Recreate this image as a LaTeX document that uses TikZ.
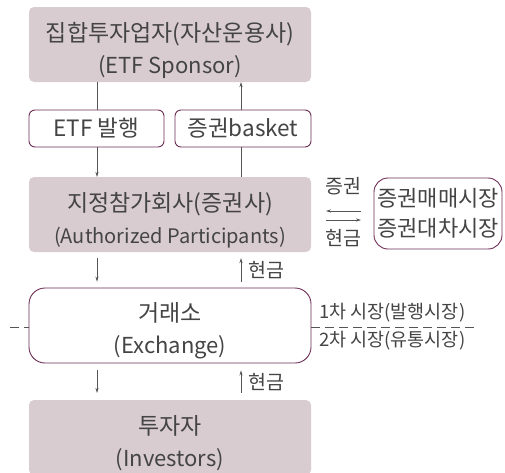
\documentclass[tikz,border=0pt]{standalone}
\usepackage{fontspec}
\setmainfont{Noto Sans CJK KR}
\usetikzlibrary{arrows.meta}
\definecolor{boxfill}{HTML}{D9CCD0}
\definecolor{frame}{HTML}{6E2D55}
\definecolor{ink}{HTML}{444444}
\definecolor{wire}{HTML}{555555}
\newcommand{\krline}[1]{{\fontsize{23}{32}\selectfont #1}}
\tikzset{
  grey/.style={rectangle, rounded corners=5pt, fill=boxfill, draw=none,
    minimum width=282pt, minimum height=75pt, inner sep=0pt},
  boxtext/.style={text=ink, align=center, inner sep=0pt, yshift=-5.5pt, font=\fontsize{22}{32}\selectfont},
  framed/.style={rectangle, rounded corners=6pt, draw=frame, line width=0.9pt, fill=white, text=ink,
    align=center, inner sep=0pt, font=\fontsize{22.5}{32}\selectfont},
  conn/.style={draw=wire, line width=0.6pt},
  arr/.style={conn, -{Stealth[length=5pt,width=3.2pt]}},
  lbl/.style={text=ink, inner sep=0pt, font=\fontsize{19.5}{22}\selectfont},
}
\begin{document}
\begin{tikzpicture}[x=1pt,y=-1pt]
\useasboundingbox (0,0) rectangle (505,472);
% boxes
\node[grey] (sponsor) at (170,44.5) {};
\node[boxtext] (sponsorT) at (sponsor.center) {\krline{집합투자업자(자산운용사)}\\(ETF Sponsor)};
\node[framed, minimum width=135pt, minimum height=37pt] (etf) at (96.5,128.5) {ETF 발행};
\node[framed, minimum width=136pt, minimum height=37pt] (basket) at (243,128.5) {증권basket};
\node[grey] (ap) at (170,214.5) {};
\node[boxtext] (apT) at (ap.center) {\krline{지정참가회사(증권사)}\\{\fontsize{20}{32}\selectfont (Authorized Participants)}};
\node[framed, rounded corners=14pt, minimum width=128pt, minimum height=71pt, font=\fontsize{22}{30}\selectfont] (market) at (438,213.5) {증권매매시장\\증권대차시장};
\node[framed, rounded corners=16pt, minimum width=282pt, minimum height=75pt] (exch) at (170,325.5) {};
\node[boxtext] (exchT) at (exch.center) {\krline{거래소}\\(Exchange)};
\node[grey] (inv) at (170,437.5) {};
\node[boxtext] (invT) at (inv.center) {\krline{투자자}\\(Investors)};

% top connectors
\draw[conn] (sponsor.south -| 97,0) -- (etf.north -| 97,0);
\draw[arr] (etf.south -| 97,0) -- (ap.north -| 97,0);
\draw[conn] (ap.north -| 241,0) -- (basket.south -| 241,0);
\draw[arr] (basket.north -| 241,0) -- (sponsor.south -| 241,0);

% middle connectors
\draw[arr, shorten <=6pt, shorten >=6pt] (ap.south -| 97,0) -- (exch.north -| 97,0);
\draw[arr, shorten <=6pt, shorten >=6pt] (exch.north -| 241,0) -- node[lbl, right=7pt, pos=0.5] (c1) {현금} (ap.south -| 241,0);
\draw[arr, shorten <=7pt, shorten >=7pt] (exch.south -| 97,0) -- (inv.north -| 97,0);
\draw[arr, shorten <=7pt, shorten >=7pt] (inv.north -| 241,0) -- node[lbl, right=7pt, pos=0.5] (c2) {현금} (exch.south -| 241,0);

% exchange between AP and market
\coordinate (l1) at (326,211);
\coordinate (r1) at (361,211);
\coordinate (l2) at (326,220);
\coordinate (r2) at (361,220);
\draw[arr] (r1) -- (l1);
\draw[arr] (l2) -- (r2);
\node[lbl] (sec) at (343,186) {증권};
\node[lbl] (cash) at (343,238) {현금};

% dashed market divider
\coordinate (dl) at (10,327);
\coordinate (dr) at (478,327);
\draw[conn, dash pattern=on 9pt off 5pt] (dl) -- (exch.west |- dl);
\draw[conn, dash pattern=on 9pt off 5pt] (exch.east |- dr) -- (dr);
\node[lbl, anchor=west, font=\fontsize{18.5}{22}\selectfont] (prim) at (319,313) {1차 시장(발행시장)};
\node[lbl, anchor=west, font=\fontsize{18.5}{22}\selectfont] (sec2) at (319,341) {2차 시장(유통시장)};
\end{tikzpicture}
\end{document}
